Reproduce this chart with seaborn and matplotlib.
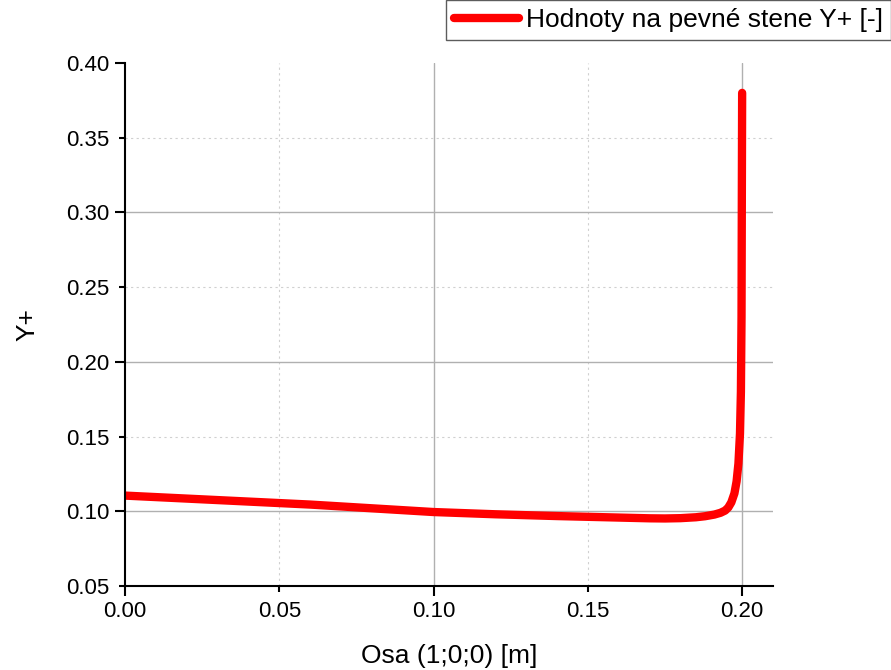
import matplotlib
matplotlib.use("Agg")
import matplotlib.pyplot as plt
import seaborn as sns
import pandas as pd

x_vals = [0.0, 0.02, 0.04, 0.06, 0.08, 0.10, 0.12, 0.14, 0.16, 0.17, 0.175, 0.18,
          0.185, 0.188, 0.191, 0.193, 0.1945, 0.1955, 0.1965, 0.1975, 0.1982, 0.1988,
          0.1993, 0.1996, 0.1998, 0.1999, 0.2]
y_vals = [0.1105, 0.1085, 0.1065, 0.1045, 0.1020, 0.0995, 0.0980, 0.0968, 0.0958, 0.0953,
          0.0952, 0.0954, 0.0960, 0.0967, 0.0978, 0.0990, 0.1005, 0.1025, 0.1060, 0.1120,
          0.1200, 0.1320, 0.1520, 0.1800, 0.2300, 0.3100, 0.3800]
series_name = "Hodnoty na pevné stene Y+ [-]"
x_ticks = [0.0, 0.05, 0.10, 0.15, 0.20]
x_tick_labels = ["0.00", "0.05", "0.10", "0.15", "0.20"]
y_ticks = [0.05, 0.10, 0.15, 0.20, 0.25, 0.30, 0.35, 0.40]
y_tick_labels = ["0.05", "0.10", "0.15", "0.20", "0.25", "0.30", "0.35", "0.40"]

df = pd.DataFrame({"x": x_vals, "y": y_vals})

sns.set_style("white")
plt.rcParams['font.family'] = ['Liberation Sans', 'DejaVu Sans']
plt.rcParams['text.color'] = 'black'
plt.rcParams['axes.labelcolor'] = 'black'

fig = plt.figure(figsize=(8.91, 6.70), dpi=100)
ax = fig.add_axes([125/891, 1-586/670, (773-125)/891, (586-63)/670])

sns.lineplot(data=df, x="x", y="y", ax=ax, color="#ff0000", linewidth=6,
             label=series_name, sort=False, solid_capstyle="round", solid_joinstyle="round")

ax.set_xlim(0, 0.21)
ax.set_ylim(0.05, 0.40)
ax.set_xticks(x_ticks)
ax.set_xticklabels(x_tick_labels)
ax.set_yticks(y_ticks)
ax.set_yticklabels(y_tick_labels)

for xv in [0.10, 0.20]:
    ax.axvline(xv, color="#b0b0b0", lw=1.0, zorder=0)
for xv in [0.05, 0.15]:
    ax.axvline(xv, color="#d0d0d0", lw=0.8, ls=(0, (2, 3)), zorder=0)
for yv in [0.10, 0.20, 0.30]:
    ax.axhline(yv, color="#b0b0b0", lw=1.0, zorder=0)
for yv in [0.15, 0.25, 0.35]:
    ax.axhline(yv, color="#d0d0d0", lw=0.8, ls=(0, (2, 3)), zorder=0)

for s in ["top", "right"]:
    ax.spines[s].set_visible(False)
for s in ["left", "bottom"]:
    ax.spines[s].set_color("black")
    ax.spines[s].set_linewidth(1.5)

ax.tick_params(axis="both", which="major", direction="out", length=7, width=1.5,
               labelsize=16, color="black", labelcolor="black",
               left=True, bottom=True, pad=4)
for tick, val in zip(ax.yaxis.get_major_ticks(), y_ticks):
    if round(val / 0.05) % 2 == 1:
        tick.tick1line.set_markersize(4)
for tick, val in zip(ax.xaxis.get_major_ticks(), x_ticks):
    if round(val / 0.05) % 2 == 1:
        tick.tick1line.set_markersize(4)

ax.set_xlabel("Osa (1;0;0) [m]", fontsize=19, labelpad=16)
ax.set_ylabel("Y+", fontsize=19, labelpad=19)

leg = ax.legend(loc="upper right", bbox_to_anchor=(1.0, 1.0), bbox_transform=fig.transFigure,
                frameon=True, fancybox=False, fontsize=19, handlelength=2.5,
                borderpad=0.3, handletextpad=0.25, borderaxespad=0.0)
leg.get_frame().set_edgecolor("#333333")
leg.get_frame().set_linewidth(1.0)
for t in leg.get_texts():
    t.set_color("black")

fig.savefig("out.png", dpi=100)
